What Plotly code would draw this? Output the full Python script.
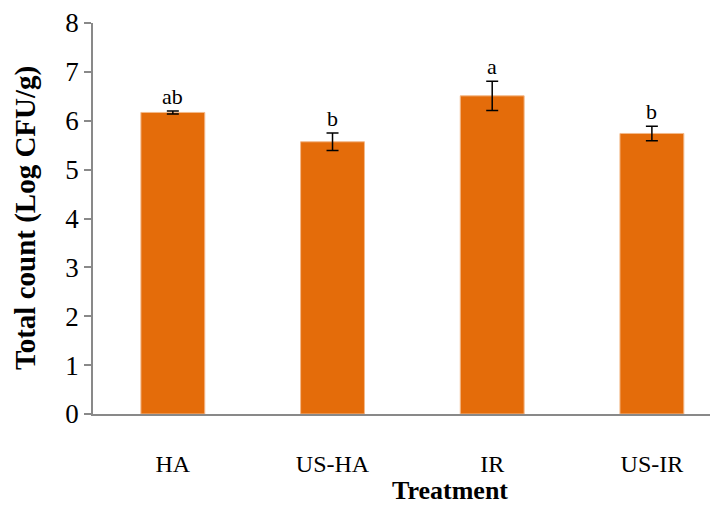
import plotly.graph_objects as go

categories = ["HA", "US-HA", "IR", "US-IR"]
values = [6.17, 5.57, 6.51, 5.74]
errors = [0.03, 0.18, 0.30, 0.15]
letters = ["ab", "b", "a", "b"]
y_ticks = [0, 1, 2, 3, 4, 5, 6, 7, 8]

BAR = "#E46C0A"
AX = "#898989"
FONT = "Liberation Serif, Times New Roman, serif"

fig = go.Figure()
fig.add_trace(go.Bar(
    x=categories, y=values,
    marker=dict(color=BAR, line=dict(color="#F3B98A", width=1)),
    error_y=dict(type="data", array=errors, visible=True, color="black",
                 thickness=1.5, width=6),
    width=0.4,
))

for c, v, e, t in zip(categories, values, errors, letters):
    fig.add_annotation(x=c, y=v + e, text=t, showarrow=False, yanchor="bottom",
                       yshift=0, font=dict(family=FONT, size=22, color="black"))

fig.add_annotation(xref="paper", yref="paper", x=0.571, y=-0.196, text="<b>Treatment</b>",
                   showarrow=False, font=dict(family=FONT, size=26, color="black"),
                   xanchor="center", yanchor="middle")
fig.add_annotation(xref="paper", yref="paper", x=-0.108, y=0.5, text="<b>Total count (Log CFU/g)</b>",
                   showarrow=False, textangle=-90, font=dict(family=FONT, size=29, color="black"),
                   xanchor="center", yanchor="middle")

# page body has an 8px margin; size the figure to the visible area
fig.update_layout(
    width=710, height=501,
    margin=dict(l=85, r=0, t=10, b=95),
    plot_bgcolor="white", paper_bgcolor="white",
    showlegend=False,
    font=dict(family=FONT, size=24, color="black"),
    xaxis=dict(range=[-0.5, 3.414], showline=True, linecolor=AX, linewidth=2,
               ticks="", showgrid=False, ticklabelstandoff=27,
               tickfont=dict(family=FONT, size=24, color="black")),
    yaxis=dict(range=[0, 8.0001], tickmode="array", tickvals=y_ticks,
               ticktext=[str(v) for v in y_ticks], ticklabeloverflow="allow",
               showline=True, linecolor=AX, linewidth=1.5,
               ticks="outside", ticklen=7, tickcolor=AX, tickwidth=1.5,
               showgrid=False, zeroline=False,
               tickfont=dict(family=FONT, size=27, color="black")),
)

fig.write_html("out.html")
